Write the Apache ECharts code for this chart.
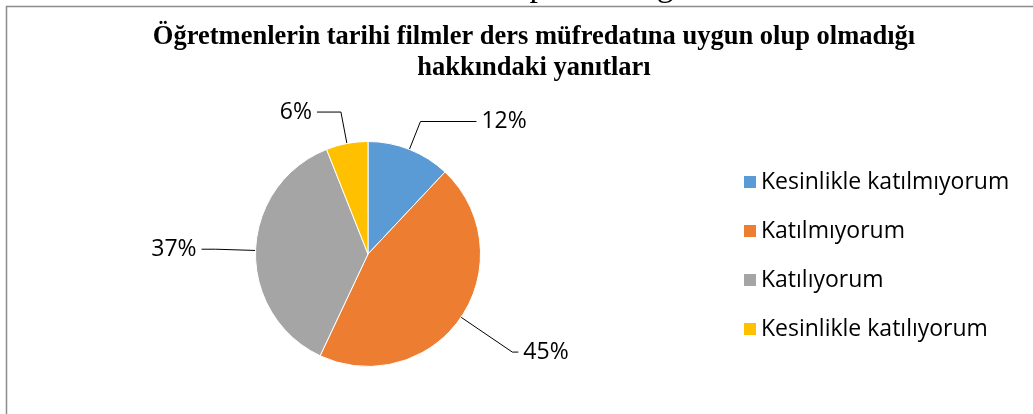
<!DOCTYPE html>
<html>
<head>
<meta charset="utf-8">
<script src="https://cdn.jsdelivr.net/npm/echarts@6/dist/echarts.min.js"></script>
<style>
  html, body { margin: 0; padding: 0; background: #fff; }
  #chart { width: 1033px; height: 414px; }
</style>
</head>
<body>
<div id="chart"></div>
<script>
// answers of the teachers
var categories = ["Kesinlikle katılmıyorum", "Katılmıyorum", "Katılıyorum", "Kesinlikle katılıyorum"];
var values = [12, 45, 37, 6];
var colors = ["#5B9BD5", "#ED7D31", "#A5A5A5", "#FFC000"];

// label line lengths per slice (style only)
var lineLen = [30, 62, 40, 32];
var lineLen2 = [56, 6, 14, 24];

var chart = echarts.init(document.getElementById("chart"));

var pieData = [];
for (var i = 0; i < categories.length; i++) {
  pieData.push({
    name: categories[i],
    value: values[i],
    itemStyle: { color: colors[i] },
    labelLine: { length: lineLen[i], length2: lineLen2[i] }
  });
}

var option = {
  backgroundColor: "#fff",
  animation: false,
  title: {
    text: "Öğretmenlerin tarihi filmler ders müfredatına uygun olup olmadığı\nhakkındaki yanıtları",
    left: 529,
    textAlign: "center",
    top: 17,
    textStyle: {
      fontFamily: "Liberation Serif",
      fontWeight: "bold",
      fontSize: 26.5,
      lineHeight: 31,
      color: "#000"
    }
  },
  graphic: [
    {
      type: "rect",
      shape: { x: 6.5, y: 6.5, width: 1100, height: 500 },
      style: { fill: "none", stroke: "#8c8c8c", lineWidth: 1.5 },
      silent: true
    },
    {
      type: "text",
      x: 520,
      y: 4,
      style: {
        text: "Verilenlere Cevapların Dağılımı",
        font: "34px 'Liberation Serif'",
        fill: "#000",
        align: "center",
        verticalAlign: "bottom"
      },
      silent: true
    }
  ],
  legend: {
    orient: "vertical",
    left: 742,
    top: 170,
    padding: 0,
    itemWidth: 14,
    itemHeight: 14,
    itemGap: 25,
    icon: "rect",
    data: categories,
    textStyle: {
      fontFamily: "Open Sans",
      fontSize: 23,
      lineHeight: 24,
      color: "#000",
      padding: [0, 0, 0, -1]
    }
  },
  series: [
    {
      type: "pie",
      center: [368, 254],
      radius: [0, 112.5],
      startAngle: 90,
      clockwise: true,
      itemStyle: { borderColor: "#fff", borderWidth: 1 },
      label: {
        show: true,
        formatter: "{c}%",
        fontFamily: "Open Sans",
        fontSize: 23,
        color: "#000"
      },
      labelLine: {
        show: true,
        smooth: false,
        lineStyle: { color: "#000", width: 1 }
      },
      emphasis: { disabled: true },
      data: pieData
    }
  ]
};

chart.setOption(option);
</script>
</body>
</html>
